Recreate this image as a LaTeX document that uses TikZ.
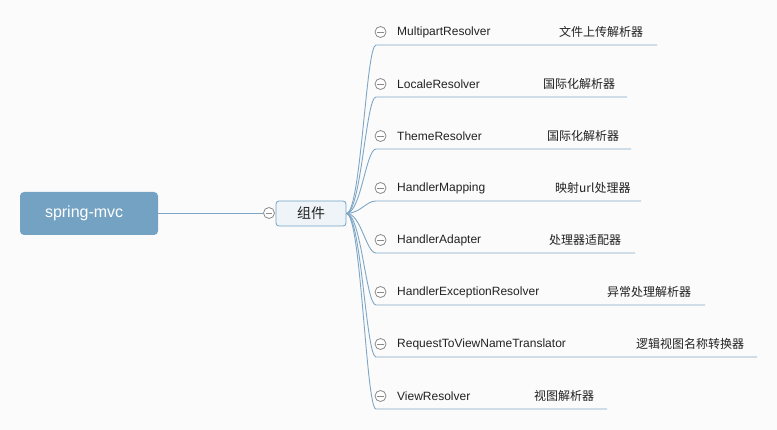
\documentclass[tikz,border=0pt]{standalone}
\usepackage{fontspec}
\setmainfont{Liberation Sans}
\newfontfamily\cjk{Noto Sans CJK SC}
\definecolor{bgc}{HTML}{FBFBFB}
\definecolor{linec}{HTML}{7EA6C6}
\definecolor{rootc}{HTML}{74A2C3}
\definecolor{compc}{HTML}{EEF4F8}
\definecolor{txtc}{HTML}{222222}
\definecolor{circc}{HTML}{8A8A8A}
\begin{document}
\begin{tikzpicture}[x=1pt,y=-1pt,
  conn/.style={draw=linec, line width=0.9pt},
  rootbox/.style={fill=rootc, rounded corners=4pt, minimum width=138pt, minimum height=43pt, inner sep=0pt, text=white, font=\fontsize{16}{18}\selectfont},
  compbox/.style={draw=rootc, fill=compc, line width=0.8pt, rounded corners=3pt, minimum width=70pt, minimum height=25pt, inner sep=0pt, text=txtc, font=\cjk\fontsize{14}{16}\selectfont},
  collapse/.style={circle, draw=circc, fill=white, line width=0.8pt, minimum size=11pt, inner sep=0pt,
    path picture={\draw[circc, line width=0.8pt] ([xshift=2.2pt]path picture bounding box.west) -- ([xshift=-2.2pt]path picture bounding box.east);}},
  entext/.style={anchor=west, inner sep=0pt, text=txtc, font=\fontsize{12}{14}\selectfont},
  cntext/.style={anchor=west, inner sep=0pt, text=txtc, font=\cjk\fontsize{12}{14}\selectfont}
]
\fill[bgc] (0,0) rectangle (777,430);
\useasboundingbox (0,0) rectangle (777,430);

\node[rootbox] (root) at (89,213.5) {\makebox[138pt][l]{\hspace{25pt}spring-mvc}};
\node[compbox] (comp) at (311,213.5) {组件};
\node[collapse] (c0) at (269,213) {};
\draw[conn] (root.east |- c0) -- (c0.west);

\foreach \i/\y/\en/\cn/\cx/\ex in {
  1/32/MultipartResolver/文件上传解析器/559/657,
  2/84/LocaleResolver/国际化解析器/543/627,
  3/136/ThemeResolver/国际化解析器/547/631,
  4/188/HandlerMapping/映射url处理器/555/641,
  5/240/HandlerAdapter/处理器适配器/549/635,
  6/292/HandlerExceptionResolver/异常处理解析器/607/705,
  7/344/RequestToViewNameTranslator/逻辑视图名称转换器/636/757,
  8/396/ViewResolver/视图解析器/534/607}{
  \pgfmathsetmacro\Y{\y+13}
  \coordinate (s\i) at (376,\Y);
  \coordinate (e\i) at (\ex,\Y);
  \draw[conn] (comp.east) .. controls (361,213) and (366,\Y) .. (s\i) -- (e\i);
  \node[collapse] (k\i) at (380.5,\y) {};
  \node[entext] (en\i) at (397,\y) {\en};
  \node[cntext] (cn\i) at (\cx,\y) {\cn};
}
\end{tikzpicture}
\end{document}
